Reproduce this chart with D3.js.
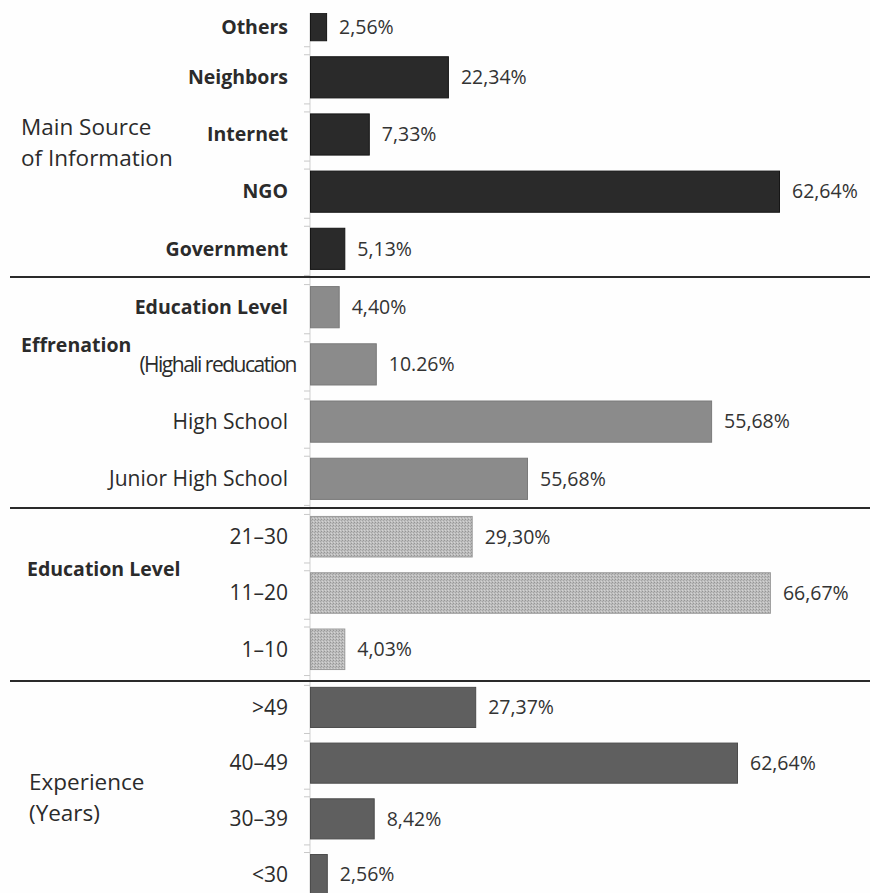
<!DOCTYPE html>
<html lang="en">
<head>
  <meta charset="UTF-8">
  <title>Respondent profile</title>
  <style>
    body { margin: 0; background: #fefefe; }
    text { font-family: "Open Sans", sans-serif; fill: #2b2b2b; }
    .value { font-size: 19.5px; fill: #333; }
    .cat { font-size: 21px; }
    .cat.b { font-size: 19.5px; font-weight: bold; }
    .cat.tight { letter-spacing: -1.5px; }
    .group { font-size: 22.5px; }
    .group.b { font-size: 19.5px; font-weight: bold; }
  </style>
</head>
<body>
<script src="https://d3js.org/d3.v7.min.js"></script>
<script>
// 1. data: categories, bar lengths and printed labels
const sourceCats   = ["Others", "Neighbors", "Internet", "NGO", "Government"];
const sourceBars   = [2.3, 19.7, 8.4, 67.0, 4.9];
const sourceLabels = ["2,56%", "22,34%", "7,33%", "62,64%", "5,13%"];

const eduCats   = ["Education Level", "(Highali reducation", "High School", "Junior High School"];
const eduBars   = [4.1, 9.4, 57.3, 31.0];
const eduLabels = ["4,40%", "10.26%", "55,68%", "55,68%"];

const levelCats   = ["21–30", "11–20", "1–10"];
const levelBars   = [23.1, 65.7, 4.9];
const levelLabels = ["29,30%", "66,67%", "4,03%"];

const expCats   = [">49", "40–49", "30–39", "<30"];
const expBars   = [23.6, 61.0, 9.1, 2.4];
const expLabels = ["27,37%", "62,64%", "8,42%", "2,56%"];

const groupTitles = [["Main Source", "of Information"], ["Effrenation"], ["Education Level"], ["Experience", "(Years)"]];

// 2. sections (layout)
const sections = [
  {cats: sourceCats, bars: sourceBars, labels: sourceLabels, top: -9,  bottom: 278, fill: "#2a2a2a", stroke: "#161616", bold: c => true,
   title: groupTitles[0], tx: 21, ty: 135, tbold: false},
  {cats: eduCats, bars: eduBars, labels: eduLabels, top: 278, bottom: 508, fill: "#8b8b8b", stroke: "#7a7a7a", bold: c => c === "Education Level",
   title: groupTitles[1], tx: 21, ty: 352, tbold: true},
  {cats: levelCats, bars: levelBars, labels: levelLabels, top: 508, bottom: 678, fill: "url(#dots)", stroke: "#9a9a9a", bold: c => false,
   title: groupTitles[2], tx: 27, ty: 576, tbold: true},
  {cats: expCats, bars: expBars, labels: expLabels, top: 679, bottom: 903, fill: "#5f5f5f", stroke: "#4c4c4c", bold: c => false,
   title: groupTitles[3], tx: 29, ty: 790, tbold: false}
];
const dividers = [277, 508, 681];

const width = 870, height = 893;
const plotTop = 13;

const svg = d3.select("body").append("svg")
  .attr("width", width)
  .attr("height", height);

svg.append("rect").attr("width", width).attr("height", height).attr("fill", "#fefefe");

const defs = svg.append("defs");
defs.append("clipPath").attr("id", "plot")
  .append("rect").attr("x", 0).attr("y", plotTop).attr("width", width).attr("height", height);

// stippled fill for the middle section
const pat = defs.append("pattern").attr("id", "dots")
  .attr("width", 3).attr("height", 3).attr("patternUnits", "userSpaceOnUse");
pat.append("rect").attr("width", 3).attr("height", 3).attr("fill", "#bdbdbd");
pat.append("rect").attr("x", 0).attr("y", 0).attr("width", 1).attr("height", 1).attr("fill", "#959595");
pat.append("rect").attr("x", 2).attr("y", 1).attr("width", 1).attr("height", 1).attr("fill", "#a4a4a4");
pat.append("rect").attr("x", 1).attr("y", 2).attr("width", 1).attr("height", 1).attr("fill", "#d4d4d4");

// 3. x scale
const x = d3.scaleLinear().domain([0, 70]).range([310, 800]);

// vertical axis line
svg.append("line")
  .attr("x1", x(0)).attr("x2", x(0))
  .attr("y1", plotTop).attr("y2", height)
  .attr("stroke", "#cfcfcf").attr("stroke-width", 1);

sections.forEach(s => {
  const y = d3.scaleBand().domain(s.cats).range([s.top, s.bottom])
    .paddingInner(0.28).paddingOuter(0.15);

  const g = svg.append("g").attr("clip-path", "url(#plot)");
  const rows = s.cats.map((c, i) => {
    const y0 = Math.max(y(c), plotTop), y1 = y(c) + y.bandwidth();
    return {cat: c, v: s.bars[i], label: s.labels[i], y0: y(c), mid: (y0 + y1) / 2};
  });

  // small ticks left of the axis
  g.selectAll("line.tk")
    .data(rows.flatMap(d => [d.y0 - 2, d.y0 + y.bandwidth() + 6]))
    .join("line")
      .attr("x1", x(0) - 6).attr("x2", x(0))
      .attr("y1", d => d).attr("y2", d => d)
      .attr("stroke", "#c8c8c8");

  g.selectAll("rect.bar")
    .data(rows)
    .join("rect")
      .attr("x", x(0) + 0.5)
      .attr("y", d => d.y0)
      .attr("width", d => x(d.v) - x(0))
      .attr("height", y.bandwidth())
      .attr("fill", s.fill)
      .attr("stroke", s.stroke)
      .attr("stroke-width", 1);

  g.selectAll("text.value")
    .data(rows)
    .join("text")
      .attr("class", "value")
      .attr("x", d => x(d.v) + 13)
      .attr("y", d => d.mid)
      .attr("dy", "0.35em")
      .text(d => d.label);

  svg.append("g").selectAll("text")
    .data(rows)
    .join("text")
      .attr("class", d => s.bold(d.cat) ? "cat b" : (d.cat.startsWith("(") ? "cat tight" : "cat"))
      .attr("x", d => d.cat.startsWith("(") ? 296 : 288)
      .attr("y", d => d.mid)
      .attr("dy", "0.35em")
      .attr("text-anchor", "end")
      .text(d => d.cat);

  // group title on the left
  svg.append("text")
    .attr("class", s.tbold ? "group b" : "group")
    .selectAll("tspan")
    .data(s.title)
    .join("tspan")
      .attr("x", s.tx)
      .attr("y", (d, i) => s.ty + i * 31)
      .text(d => d);
});

// 4. section dividers
svg.selectAll("line.div")
  .data(dividers)
  .join("line")
    .attr("x1", 10).attr("x2", width)
    .attr("y1", d => d).attr("y2", d => d)
    .attr("stroke", "#2a2a2a")
    .attr("stroke-width", 2);
</script>
</body>
</html>
